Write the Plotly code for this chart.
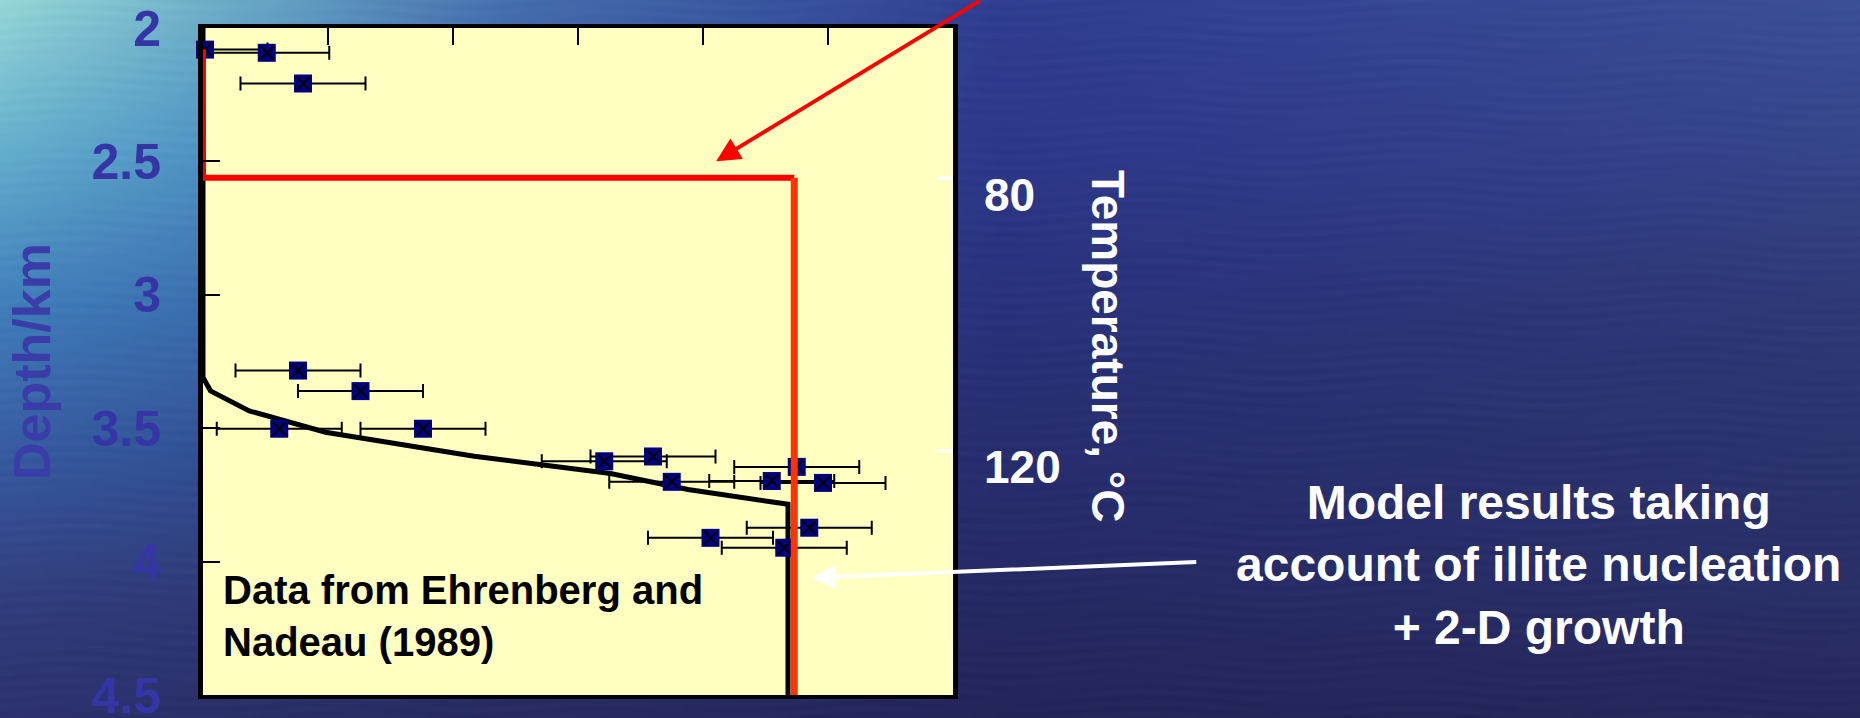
import base64
import struct
import zlib

import numpy as np
import plotly.graph_objects as go

# ---------------- data ----------------
# measured illite data (x in arbitrary units 0-60, depth in km), with +/- error
obs_x = [0.16, 5.1, 8.0, 7.6, 12.6, 6.1, 17.6, 32.1, 36.0, 37.5, 47.5, 45.5, 49.6, 48.5, 40.6, 46.5]
obs_depth = [2.081, 2.093, 2.208, 3.284, 3.361, 3.502, 3.502, 3.624, 3.606, 3.701,
             3.645, 3.698, 3.705, 3.873, 3.911, 3.948]
obs_err = [5] * len(obs_x)

# black model curve
model_x = [0, 0, 0.6, 3.7, 9.8, 21.7, 32.6, 38.8, 46.8, 46.8]
model_depth = [1.97, 3.31, 3.36, 3.435, 3.515, 3.605, 3.67, 3.73, 3.785, 4.52]

# red model (nucleation + 2-D growth) : step part and vertical part
red_x = [0, 0, 47.3]
red_depth = [2.08, 2.561, 2.561]
red2_x = [47.3, 47.3]
red2_depth = [2.561, 4.55]

# temperature axis: tick values and the depths where they sit
temp_ticks = [80, 120]
temp_tick_depths = [2.564, 3.584]

depth_ticks = [2, 2.5, 3, 3.5, 4, 4.5]
depth_range = [4.5, 2]
x_range = [0, 60]
x_ticks = [10, 20, 30, 40, 50]

# ---------------- figure geometry ----------------
W, H = 1860, 718
ML, MR, MT, MB = 203, 907, 28, 23
PW, PH = W - ML - MR, H - MT - MB

slope = (temp_ticks[1] - temp_ticks[0]) / (temp_tick_depths[1] - temp_tick_depths[0])
temp_range = [temp_ticks[0] + (d - temp_tick_depths[0]) * slope for d in depth_range]


# ---------------- background (water-like gradient) ----------------
def png_data_uri(arr):
    h, w, _ = arr.shape
    raw = b"".join(b"\x00" + arr[i].tobytes() for i in range(h))

    def chunk(tag, data):
        c = struct.pack(">I", len(data)) + tag + data
        return c + struct.pack(">I", zlib.crc32(tag + data) & 0xFFFFFFFF)

    png = (b"\x89PNG\r\n\x1a\n"
           + chunk(b"IHDR", struct.pack(">IIBBBBB", w, h, 8, 2, 0, 0, 0))
           + chunk(b"IDAT", zlib.compress(raw, 9))
           + chunk(b"IEND", b""))
    return "data:image/png;base64," + base64.b64encode(png).decode()


bw, bh = 620, 240
xa = np.array([0, 200, 500, 1000, 1860]) / W * (bw - 1)
ya = np.array([0, 150, 300, 450, 600, 718]) / H * (bh - 1)
anchors = np.array([
    [[150, 215, 215], [100, 175, 205], [66, 128, 188], [56, 92, 162], [50, 62, 126], [45, 50, 110]],
    [[112, 178, 202], [80, 148, 196], [60, 112, 176], [50, 82, 150], [48, 58, 120], [42, 48, 105]],
    [[70, 112, 175], [58, 92, 165], [50, 72, 145], [45, 58, 125], [42, 48, 108], [40, 44, 98]],
    [[48, 62, 145], [45, 56, 138], [42, 50, 124], [40, 46, 112], [38, 42, 100], [36, 38, 90]],
    [[60, 80, 150], [54, 70, 138], [48, 58, 120], [44, 52, 110], [42, 48, 104], [38, 40, 92]],
], dtype=float)
gx = np.arange(bw)
gy = np.arange(bh)
img = np.zeros((bh, bw, 3))
for c in range(3):
    cols = np.array([np.interp(gy, ya, anchors[i, :, c]) for i in range(len(xa))])
    for j in range(bh):
        img[j, :, c] = np.interp(gx, xa, cols[:, j])
yy, xx = np.meshgrid(gy, gx, indexing="ij")
ripple = 3 * np.sin(yy * 1.7 + 2.0 * np.sin(xx * 0.07)) * np.sin(xx * 0.031 + yy * 0.13)
img = np.clip(img + ripple[..., None], 0, 255).astype(np.uint8)
bg_uri = png_data_uri(img)

# ---------------- traces ----------------
fig = go.Figure()

fig.add_trace(go.Scatter(
    x=model_x, y=model_depth, mode="lines",
    line=dict(color="black", width=5), hoverinfo="skip", showlegend=False))

fig.add_trace(go.Scatter(
    x=obs_x, y=obs_depth, mode="markers",
    marker=dict(size=1, opacity=0),
    error_x=dict(type="data", array=obs_err, symmetric=True, color="black",
                 thickness=2, width=7),
    cliponaxis=True, hoverinfo="skip", showlegend=False))

fig.add_trace(go.Scatter(
    x=obs_x, y=obs_depth, mode="markers",
    marker=dict(symbol="square", size=18, color="#000080", line=dict(width=0)),
    cliponaxis=False, showlegend=False))

fig.add_trace(go.Scatter(
    x=obs_x, y=obs_depth, mode="markers",
    marker=dict(symbol="x-thin", size=13, line=dict(color="black", width=2)),
    cliponaxis=False, hoverinfo="skip", showlegend=False))

fig.add_trace(go.Scatter(
    x=red_x, y=red_depth, mode="lines",
    line=dict(color="#ff0000", width=6), hoverinfo="skip", showlegend=False))

fig.add_trace(go.Scatter(
    x=red2_x, y=red2_depth, mode="lines",
    line=dict(color="#ff3300", width=7), hoverinfo="skip", showlegend=False))

# invisible trace to carry the temperature axis
fig.add_trace(go.Scatter(
    x=[x_range[0]] * len(temp_ticks), y=temp_ticks, yaxis="y2", mode="markers",
    marker=dict(size=1, opacity=0), hoverinfo="skip", showlegend=False))

FONT = "Arial, Liberation Sans, sans-serif"

fig.update_layout(
    width=W, height=H, autosize=False,
    margin=dict(l=ML, r=MR, t=MT, b=MB, pad=0, autoexpand=False),
    paper_bgcolor="#2c3682",
    plot_bgcolor="#FFFFC2",
    font=dict(family=FONT),
    showlegend=False,
    xaxis=dict(
        range=x_range, side="top", showline=True, linecolor="black", linewidth=4,
        mirror=True, ticks="inside", ticklen=17, tickwidth=2, tickcolor="black",
        tickvals=x_ticks, showticklabels=False, showgrid=False, zeroline=False,
        automargin=False,
    ),
    yaxis=dict(
        range=depth_range, showline=True, linecolor="black", linewidth=5, mirror=True,
        ticks="inside", ticklen=17, tickwidth=2, tickcolor="black",
        tickvals=depth_ticks, ticktext=[f"{v:g}" for v in depth_ticks],
        tickfont=dict(size=50, color="#3535a5", family=FONT, weight="bold"),
        ticklabelstandoff=27, ticklabeloverflow="allow",
        showgrid=False, zeroline=False, automargin=False,
        title=dict(text="Depth/km", font=dict(size=52, color="#3a3ca8", family=FONT, weight="bold"),
                   standoff=26),
    ),
    yaxis2=dict(
        overlaying="y", side="right", range=temp_range, showline=False,
        ticks="inside", ticklen=16, tickwidth=4, tickcolor="white",
        tickvals=temp_ticks, ticktext=[str(v) for v in temp_ticks],
        tickfont=dict(size=46, color="white", family=FONT, weight="bold"),
        ticklabelstandoff=30, ticklabelshift=-16, ticklabeloverflow="allow",
        showgrid=False, zeroline=False, automargin=False,
    ),
    images=[dict(
        source=bg_uri, xref="paper", yref="paper",
        x=-ML / PW, y=1 + MT / PH, sizex=W / PW, sizey=H / PH,
        xanchor="left", yanchor="top", sizing="stretch", layer="below",
    )],
    shapes=[dict(
        type="rect", xref="x domain", yref="y domain", x0=0, x1=1, y0=0, y1=1,
        fillcolor="#FFFFC2", line=dict(width=0), layer="below",
    )],
    annotations=[
        dict(text="Data from Ehrenberg and<br>Nadeau (1989)", xref="paper", yref="paper",
             x=(221 - ML) / PW, y=1 - (615.5 - MT) / PH, xanchor="left", yanchor="middle",
             align="left", showarrow=False,
             font=dict(size=40, color="black", family=FONT, weight="bold")),
        dict(text="Model results taking<br>account of illite nucleation<br>+ 2-D growth",
             xref="paper", yref="paper",
             x=(1538 - ML) / PW, y=1 - (565 - MT) / PH, xanchor="center", yanchor="middle",
             align="center", showarrow=False,
             font=dict(size=48, color="white", family=FONT, weight="bold")),
        dict(text="Temperature, °C", xref="paper", yref="paper",
             x=(1108 - ML) / PW, y=1 - (346 - MT) / PH, xanchor="center", yanchor="middle",
             textangle=90, showarrow=False,
             font=dict(size=46, color="white", family=FONT, weight="bold")),
        dict(text="", x=41.05, y=2.499, xref="x", yref="y", showarrow=True,
             ax=265, ay=-175, arrowcolor="#ff0000", arrowwidth=4, arrowhead=2,
             arrowsize=1.2, standoff=0),
        dict(text="", x=48.7, y=4.061, xref="x", yref="y", showarrow=True,
             ax=386, ay=-16, arrowcolor="white", arrowwidth=4, arrowhead=2,
             arrowsize=1.2, standoff=0),
    ],
)

fig.write_html(
    "out.html",
    config={"displayModeBar": False},
    post_script="document.body.style.margin='0';document.body.style.overflow='hidden';",
)
